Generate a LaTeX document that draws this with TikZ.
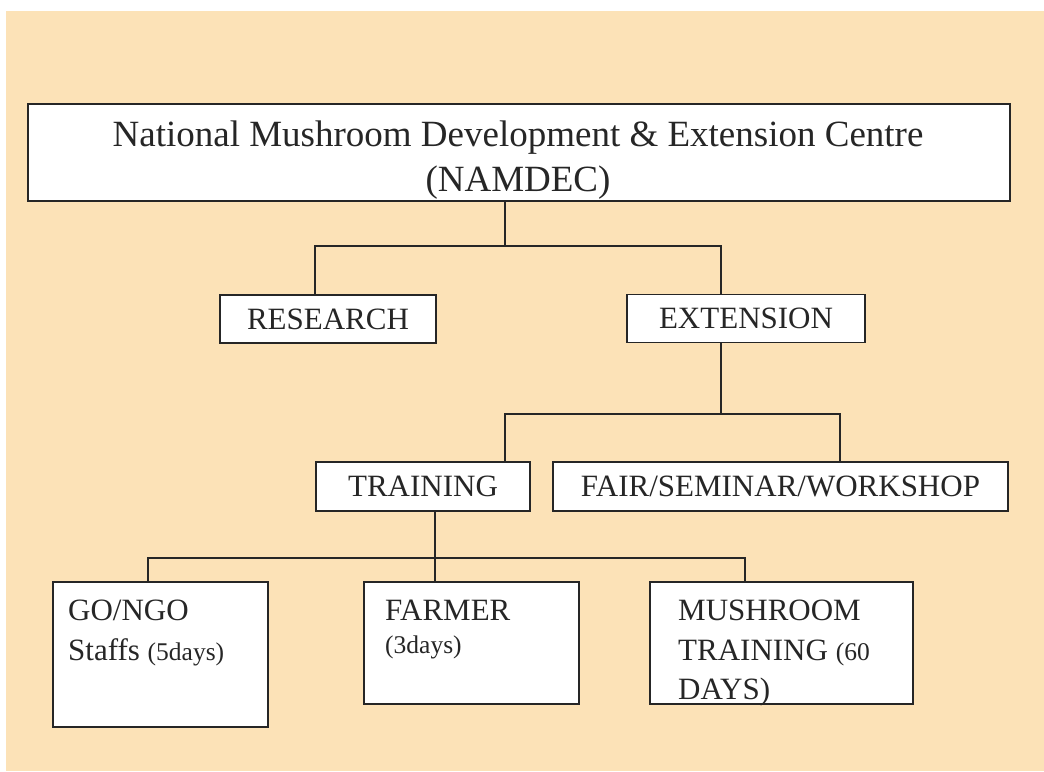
\documentclass[tikz,border=0pt]{standalone}
\usepackage{fontspec}
\setmainfont{Liberation Serif}
\definecolor{peach}{RGB}{252,226,183}
\definecolor{ink}{RGB}{38,38,38}
\begin{document}
\begin{tikzpicture}[x=1pt,y=-1pt,line join=miter,
  unitbox/.style={draw=ink,fill=white,line width=1.2pt,inner sep=0pt},
  unittext/.style={text=ink,inner sep=0pt,font=\fontsize{31}{39.5}\selectfont,text height=20.5pt,text depth=0pt},
  leaftext/.style={text=ink,inner sep=0pt,align=left,anchor=north west,font=\fontsize{31}{39.5}\selectfont},
  link/.style={draw=ink,line width=1.2pt}]
\useasboundingbox (0,0) rectangle (1044,771);
\fill[white] (0,0) rectangle (1044,771);
\fill[peach] (6,11) rectangle (1044,771);
% boxes
\node[unitbox,minimum width=982pt,minimum height=97pt] (namdec) at (519,152.5) {};
\node[text=ink,inner sep=0pt,align=center,font=\fontsize{37}{45.5}\selectfont] (namdectxt) at (518,160) {National Mushroom Development \& Extension Centre\\(NAMDEC)};
\node[unitbox,unittext,minimum width=216pt,minimum height=48pt] (research) at (328,319) {RESEARCH};
\node[unitbox,unittext,minimum width=238pt,minimum height=48pt] (extension) at (746,318.5) {EXTENSION};
\node[unitbox,unittext,minimum width=214pt,minimum height=49pt] (training) at (423,486.5) {TRAINING};
\node[unitbox,unittext,minimum width=455pt,minimum height=49pt] (fair) at (780.5,486.5) {FAIR/SEMINAR/WORKSHOP};
\node[unitbox,minimum width=215pt,minimum height=145pt] (gongo) at (160.5,654.5) {};
\node[unitbox,minimum width=215pt,minimum height=122pt] (farmer) at (471.5,643) {};
\node[unitbox,minimum width=263pt,minimum height=122pt] (mushroom) at (781.5,643) {};
\node[leaftext] (gongotxt) at (68,600) {GO/NGO\\Staffs {\fontsize{25.5}{39.5}\selectfont(5days)}};
\node[leaftext] (farmertxt) at (385,600) {FARMER\\[-7pt]{\fontsize{25.5}{39.5}\selectfont(3days)}};
\node[leaftext] (mushroomtxt) at (678,600) {MUSHROOM\\TRAINING {\fontsize{25.5}{39.5}\selectfont(60}\\DAYS)};
% junctions
\coordinate (b1l) at (315,246);
\coordinate (b1m) at (505,246);
\coordinate (b1r) at (721,246);
\coordinate (b2l) at (505,414);
\coordinate (b2m) at (721,414);
\coordinate (b2r) at (840,414);
\coordinate (b3l) at (148,558);
\coordinate (b3m) at (435,558);
\coordinate (b3r) at (745,558);
% links
\draw[link] (namdec.south -| b1m) -- (b1m);
\draw[link] (research.north -| b1l) |- (b1r) -- (extension.north -| b1r);
\draw[link] (extension.south -| b2m) -- (b2m);
\draw[link] (training.north -| b2l) |- (b2r) -- (fair.north -| b2r);
\draw[link] (training.south -| b3m) -- (farmer.north -| b3m);
\draw[link] (gongo.north -| b3l) |- (b3r) -- (mushroom.north -| b3r);
\end{tikzpicture}
\end{document}
